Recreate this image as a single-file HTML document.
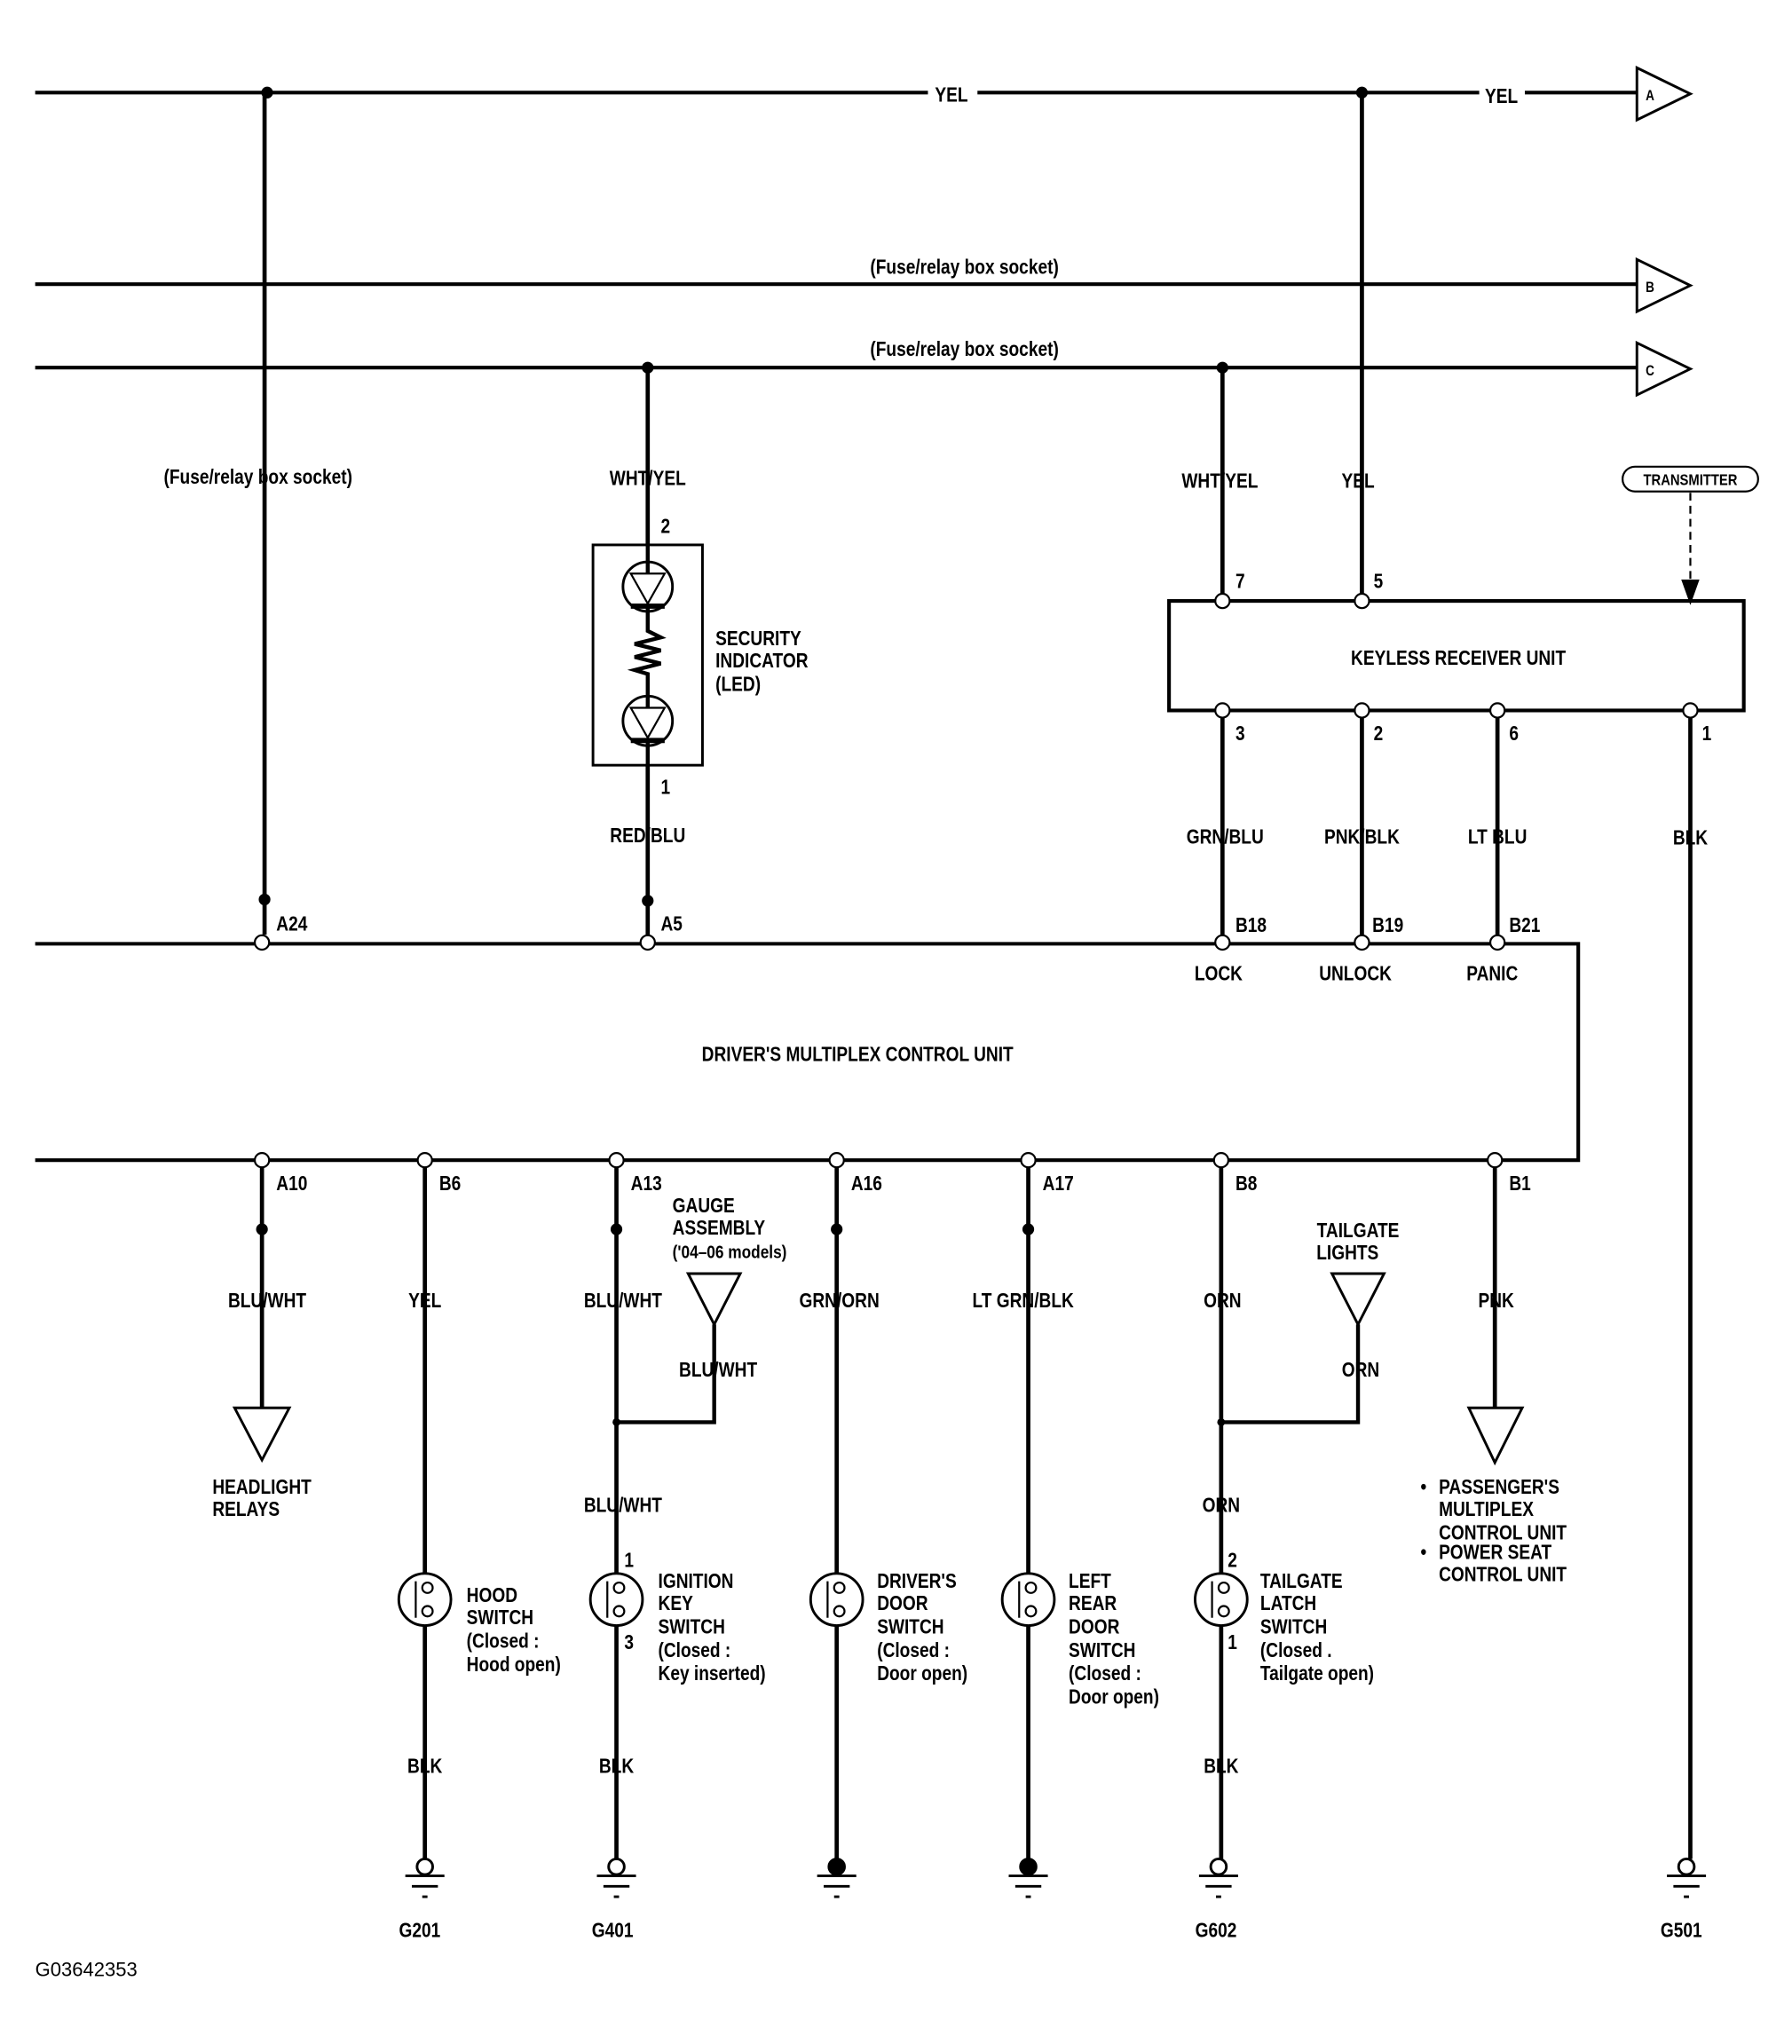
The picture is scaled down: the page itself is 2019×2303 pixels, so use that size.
<!DOCTYPE html>
<html><head><meta charset="utf-8"><style>
html,body{margin:0;padding:0;background:#fff;}
svg{display:block;}
text{font-family:"Liberation Sans",sans-serif;font-weight:bold;font-size:15.5px;fill:#000;transform-box:fill-box;transform-origin:left center;transform:scaleX(0.84);}
.c{text-anchor:middle;transform-origin:center center;}
</style></head><body>
<svg width="2019" height="2303" viewBox="0 0 1375 1568" preserveAspectRatio="none" xmlns="http://www.w3.org/2000/svg">
<rect width="1375" height="1568" fill="#fff"/>
<g stroke="#000" fill="none" stroke-width="2.8">
<path d="M27 71H712M750 71H1135M1170 71H1256"/>
<path d="M27 218H1256M27 282H1256"/>
<path d="M1256 52L1297 72L1256 92Z" stroke-width="2"/>
<path d="M1256 199L1297 219L1256 239Z" stroke-width="2"/>
<path d="M1256 263L1297 283L1256 303Z" stroke-width="2"/>
<path d="M203 71V717" stroke-width="3.2"/>
<path d="M497 282V418M497 587V717" stroke-width="3.2"/>
<path d="M938 282V455M1045 71V455" stroke-width="3.2"/>
<rect x="455" y="418" width="84" height="169" stroke-width="2"/>
<circle cx="497" cy="450" r="19" stroke-width="2"/>
<path d="M484 440H510L497 463Z" stroke-width="1.5"/>
<path d="M484 465H510" stroke-width="4"/>
<circle cx="497" cy="553" r="19" stroke-width="2"/>
<path d="M484 543H510L497 566Z" stroke-width="1.5"/>
<path d="M484 568H510" stroke-width="4"/>
<path d="M497 418V440M497 465V484L507 489L487 494L507 499L487 504L507 509L487 514L497 517V543M497 568V587" stroke-width="3"/>
<rect x="897" y="461" width="441" height="84" stroke-width="2.8"/>
<rect x="1245" y="358" width="104" height="19" rx="9.5" stroke-width="1.5"/>
<path d="M1297 378V446" stroke-width="1.5" stroke-dasharray="6,4"/>
<path d="M1292 446H1302L1297 460Z" fill="#000"/>
<path d="M938 551V717M1045 551V717M1149 551V717" stroke-width="3.2"/>
<path d="M1297 551V1426" stroke-width="3.2"/>
<path d="M27 724H1211V890H27" stroke-width="2.8"/>
<path d="M201 896V1080" stroke-width="3.2"/>
<path d="M180 1080H222L201 1120Z" stroke-width="2"/>
<path d="M326 896V1207M326 1247V1426" stroke-width="3.2"/>
<path d="M473 896V1207M473 1247V1426" stroke-width="3.2"/>
<path d="M473 1091H548V1016" stroke-width="3"/>
<path d="M528 977H568L548 1016Z" stroke-width="2"/>
<path d="M642 896V1207M642 1247V1426" stroke-width="3.2"/>
<path d="M789 896V1207M789 1247V1426" stroke-width="3.2"/>
<path d="M937 896V1207M937 1247V1426" stroke-width="3.2"/>
<path d="M937 1091H1042V1016" stroke-width="3"/>
<path d="M1022 977H1062L1042 1016Z" stroke-width="2"/>
<path d="M1147 896V1080" stroke-width="3.2"/>
<path d="M1127 1080H1168L1147 1122Z" stroke-width="2"/>
</g>
<g fill="#fff" stroke="#000" stroke-width="1.5">
<circle cx="201" cy="723" r="5.5"/><circle cx="497" cy="723" r="5.5"/>
<circle cx="938" cy="723" r="5.5"/><circle cx="1045" cy="723" r="5.5"/><circle cx="1149" cy="723" r="5.5"/>
<circle cx="938" cy="461" r="5.5"/><circle cx="1045" cy="461" r="5.5"/>
<circle cx="938" cy="545" r="5.5"/><circle cx="1045" cy="545" r="5.5"/><circle cx="1149" cy="545" r="5.5"/><circle cx="1297" cy="545" r="5.5"/>
<circle cx="201" cy="890" r="5.5"/><circle cx="326" cy="890" r="5.5"/><circle cx="473" cy="890" r="5.5"/><circle cx="642" cy="890" r="5.5"/><circle cx="789" cy="890" r="5.5"/><circle cx="937" cy="890" r="5.5"/><circle cx="1147" cy="890" r="5.5"/>
</g>
<g fill="#000">
<circle cx="205" cy="71" r="4.5"/><circle cx="1045" cy="71" r="4.5"/>
<circle cx="497" cy="282" r="4.5"/><circle cx="938" cy="282" r="4.5"/>
<circle cx="203" cy="690" r="4.5"/><circle cx="497" cy="691" r="4.5"/>
<circle cx="201" cy="943" r="4.5"/><circle cx="473" cy="943" r="4.5"/><circle cx="642" cy="943" r="4.5"/><circle cx="789" cy="943" r="4.5"/>
<circle cx="473" cy="1091" r="3"/><circle cx="937" cy="1091" r="3"/>
</g>
<g stroke="#000" fill="none" stroke-width="2">
<circle cx="326" cy="1227" r="20"/><circle cx="473" cy="1227" r="20"/><circle cx="642" cy="1227" r="20"/><circle cx="789" cy="1227" r="20"/><circle cx="937" cy="1227" r="20"/>
</g>
<g stroke="#000" fill="#fff" stroke-width="1.5">
<path d="M319 1213V1241M466 1213V1241M635 1213V1241M782 1213V1241M930 1213V1241"/>
<circle cx="328" cy="1218" r="4"/><circle cx="328" cy="1236" r="4"/>
<circle cx="475" cy="1218" r="4"/><circle cx="475" cy="1236" r="4"/>
<circle cx="644" cy="1218" r="4"/><circle cx="644" cy="1236" r="4"/>
<circle cx="791" cy="1218" r="4"/><circle cx="791" cy="1236" r="4"/>
<circle cx="939" cy="1218" r="4"/><circle cx="939" cy="1236" r="4"/>
</g>
<g stroke="#000" stroke-width="2">
<circle cx="326" cy="1432" r="6" fill="#fff"/><circle cx="473" cy="1432" r="6" fill="#fff"/>
<circle cx="642" cy="1432" r="6" fill="#000"/><circle cx="789" cy="1432" r="6" fill="#000"/>
<circle cx="935" cy="1432" r="6" fill="#fff"/><circle cx="1294" cy="1432" r="6" fill="#fff"/>
<path d="M311 1439H341M316 1447H336M324 1455H328"/>
<path d="M458 1439H488M463 1447H483M471 1455H475"/>
<path d="M627 1439H657M632 1447H652M640 1455H644"/>
<path d="M774 1439H804M779 1447H799M787 1455H791"/>
<path d="M920 1439H950M925 1447H945M933 1455H937"/>
<path d="M1279 1439H1309M1284 1447H1304M1292 1455H1296"/>
</g>
<text class="c" x="730" y="78">YEL</text>
<text class="c" x="1152" y="79">YEL</text>
<text class="c" x="1266" y="77" style="font-size:11px">A</text>
<text class="c" x="1266" y="224" style="font-size:11px">B</text>
<text class="c" x="1266" y="288" style="font-size:11px">C</text>
<text class="c" x="740" y="210">(Fuse/relay box socket)</text>
<text class="c" x="740" y="273">(Fuse/relay box socket)</text>
<text class="c" x="198" y="371">(Fuse/relay box socket)</text>
<text class="c" x="497" y="372">WHT/YEL</text>
<text x="507" y="409">2</text>
<text x="507" y="609">1</text>
<text class="c" x="497" y="646">RED/BLU</text>
<text x="549" y="495">SECURITY</text>
<text x="549" y="512">INDICATOR</text>
<text x="549" y="530">(LED)</text>
<text class="c" x="936" y="374">WHT/YEL</text>
<text class="c" x="1042" y="374">YEL</text>
<text class="c" x="1297" y="372" style="font-size:12px">TRANSMITTER</text>
<text x="948" y="451">7</text><text x="1054" y="451">5</text>
<text class="c" x="1119" y="510">KEYLESS RECEIVER UNIT</text>
<text x="948" y="568">3</text><text x="1054" y="568">2</text><text x="1158" y="568">6</text><text x="1306" y="568">1</text>
<text class="c" x="940" y="647">GRN/BLU</text>
<text class="c" x="1045" y="647">PNK/BLK</text>
<text class="c" x="1149" y="647">LT BLU</text>
<text class="c" x="1297" y="648">BLK</text>
<text x="212" y="714">A24</text><text x="507" y="714">A5</text>
<text x="948" y="715">B18</text><text x="1053" y="715">B19</text><text x="1158" y="715">B21</text>
<text class="c" x="935" y="752">LOCK</text><text class="c" x="1040" y="752">UNLOCK</text><text class="c" x="1145" y="752">PANIC</text>
<text class="c" x="658" y="814">DRIVER'S MULTIPLEX CONTROL UNIT</text>
<text x="212" y="913">A10</text><text x="337" y="913">B6</text><text x="484" y="913">A13</text><text x="653" y="913">A16</text><text x="800" y="913">A17</text><text x="948" y="913">B8</text><text x="1158" y="913">B1</text>
<text class="c" x="205" y="1003">BLU/WHT</text>
<text class="c" x="326" y="1003">YEL</text>
<text class="c" x="478" y="1003">BLU/WHT</text>
<text class="c" x="644" y="1003">GRN/ORN</text>
<text class="c" x="785" y="1003">LT GRN/BLK</text>
<text class="c" x="938" y="1003">ORN</text>
<text class="c" x="1148" y="1003">PNK</text>
<text x="516" y="930">GAUGE</text><text x="516" y="947">ASSEMBLY</text><text x="516" y="965" style="font-size:14px">('04–06 models)</text>
<text class="c" x="551" y="1056">BLU/WHT</text>
<text class="c" x="1042" y="949">TAILGATE</text><text class="c" x="1034" y="966">LIGHTS</text>
<text class="c" x="1044" y="1056">ORN</text>
<text x="163" y="1146">HEADLIGHT</text><text x="163" y="1163">RELAYS</text>
<text x="1090" y="1146">•</text><text x="1104" y="1146">PASSENGER'S</text>
<text x="1104" y="1163">MULTIPLEX</text><text x="1104" y="1181">CONTROL UNIT</text>
<text x="1090" y="1196">•</text><text x="1104" y="1196">POWER SEAT</text><text x="1104" y="1213">CONTROL UNIT</text>
<text class="c" x="478" y="1160">BLU/WHT</text>
<text class="c" x="937" y="1160">ORN</text>
<text x="479" y="1202">1</text><text x="479" y="1265">3</text>
<text x="942" y="1202">2</text><text x="942" y="1265">1</text>
<text x="358" y="1229">HOOD</text><text x="358" y="1246">SWITCH</text><text x="358" y="1264">(Closed :</text><text x="358" y="1282">Hood open)</text>
<text x="505" y="1218">IGNITION</text><text x="505" y="1235">KEY</text><text x="505" y="1253">SWITCH</text><text x="505" y="1271">(Closed :</text><text x="505" y="1289">Key inserted)</text>
<text x="673" y="1218">DRIVER'S</text><text x="673" y="1235">DOOR</text><text x="673" y="1253">SWITCH</text><text x="673" y="1271">(Closed :</text><text x="673" y="1289">Door open)</text>
<text x="820" y="1218">LEFT</text><text x="820" y="1235">REAR</text><text x="820" y="1253">DOOR</text><text x="820" y="1271">SWITCH</text><text x="820" y="1289">(Closed :</text><text x="820" y="1307">Door open)</text>
<text x="967" y="1218">TAILGATE</text><text x="967" y="1235">LATCH</text><text x="967" y="1253">SWITCH</text><text x="967" y="1271">(Closed .</text><text x="967" y="1289">Tailgate open)</text>
<text class="c" x="326" y="1360">BLK</text><text class="c" x="473" y="1360">BLK</text><text class="c" x="937" y="1360">BLK</text>
<text class="c" x="322" y="1486">G201</text><text class="c" x="470" y="1486">G401</text><text class="c" x="933" y="1486">G602</text><text class="c" x="1290" y="1486">G501</text>
<text x="27" y="1516" style="font-weight:normal;font-size:15px;transform:none">G03642353</text>
</svg>
</body></html>
